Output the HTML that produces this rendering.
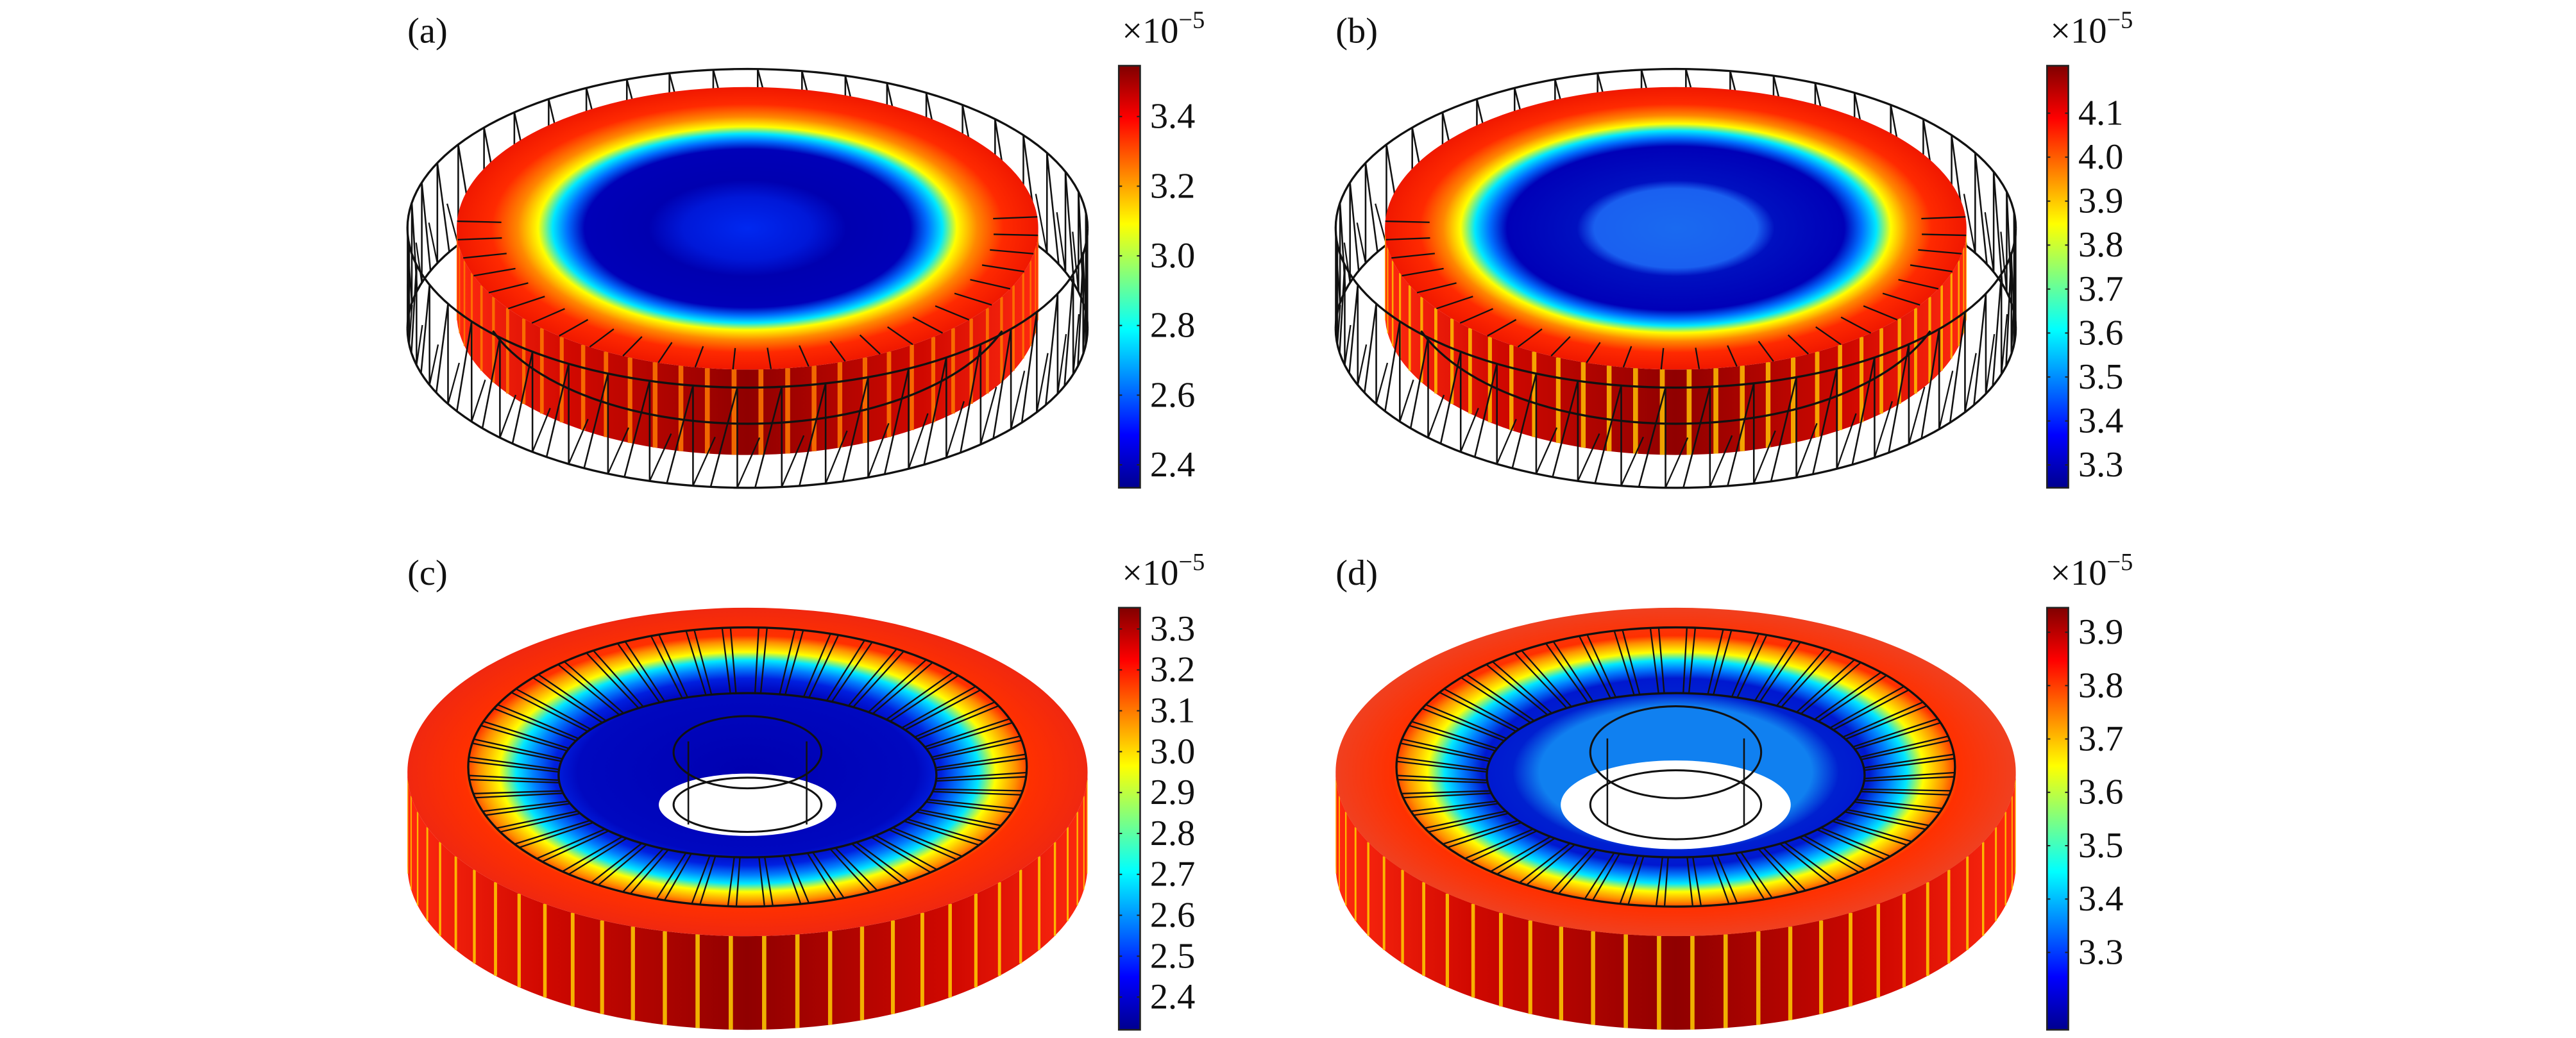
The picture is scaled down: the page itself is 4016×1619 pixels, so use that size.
<!DOCTYPE html>
<html><head><meta charset="utf-8">
<style>
html,body{margin:0;padding:0;background:#fff;}
svg{display:block;}
text{font-family:"Liberation Serif",serif;fill:#111;}
</style></head>
<body>
<svg id="fig" width="4016" height="1619" viewBox="0 0 1568 632" preserveAspectRatio="none" xmlns="http://www.w3.org/2000/svg">
<defs>
<linearGradient id="jet" x1="0" y1="1" x2="0" y2="0">
<stop offset="0" stop-color="#00008f"/><stop offset="0.125" stop-color="#0000ff"/><stop offset="0.375" stop-color="#00ffff"/><stop offset="0.625" stop-color="#ffff00"/><stop offset="0.875" stop-color="#ff0000"/><stop offset="1" stop-color="#800000"/>
</linearGradient>
<linearGradient id="side" x1="0" y1="0" x2="1" y2="0">
<stop offset="0" stop-color="#ff2a10"/><stop offset="0.2" stop-color="#d00800"/><stop offset="0.5" stop-color="#900000"/><stop offset="0.8" stop-color="#d00800"/><stop offset="1" stop-color="#ff2a10"/>
</linearGradient>
<radialGradient id="topA" cx="0.5" cy="0.5" r="0.5">
<stop offset="0" stop-color="#0028f0"/><stop offset="0.22" stop-color="#0018d8"/><stop offset="0.34" stop-color="#0000b0"/><stop offset="0.56" stop-color="#0000b8"/><stop offset="0.62" stop-color="#0070ff"/><stop offset="0.67" stop-color="#00e8ff"/><stop offset="0.72" stop-color="#ffff00"/><stop offset="0.79" stop-color="#ff8800"/><stop offset="0.88" stop-color="#ff2a00"/><stop offset="1" stop-color="#f01800"/>
</radialGradient>
<radialGradient id="topB" cx="0.5" cy="0.5" r="0.5">
<stop offset="0" stop-color="#1a6af0"/><stop offset="0.28" stop-color="#1a60f0"/><stop offset="0.34" stop-color="#0010c0"/><stop offset="0.58" stop-color="#0000b8"/><stop offset="0.64" stop-color="#0070ff"/><stop offset="0.69" stop-color="#00e8ff"/><stop offset="0.74" stop-color="#ffff00"/><stop offset="0.8" stop-color="#ff8800"/><stop offset="0.88" stop-color="#ff2a00"/><stop offset="1" stop-color="#f01800"/>
</radialGradient>
<radialGradient id="topC" cx="0.5" cy="0.5" r="0.5">
<stop offset="0" stop-color="#0000b0"/><stop offset="0.5" stop-color="#0008c0"/><stop offset="0.57" stop-color="#0020e0"/><stop offset="0.63" stop-color="#0080ff"/><stop offset="0.68" stop-color="#00e8ff"/><stop offset="0.73" stop-color="#ffff00"/><stop offset="0.79" stop-color="#ff9000"/><stop offset="0.83" stop-color="#ff3000"/><stop offset="1" stop-color="#f02810"/>
</radialGradient>
<radialGradient id="topD" cx="0.5" cy="0.5" r="0.5">
<stop offset="0" stop-color="#1080f0"/><stop offset="0.4" stop-color="#1080f0"/><stop offset="0.48" stop-color="#0020d0"/><stop offset="0.57" stop-color="#0018d0"/><stop offset="0.63" stop-color="#0080ff"/><stop offset="0.68" stop-color="#00e8ff"/><stop offset="0.73" stop-color="#ffff00"/><stop offset="0.79" stop-color="#ff9000"/><stop offset="0.83" stop-color="#ff3000"/><stop offset="1" stop-color="#f04020"/>
</radialGradient>
</defs>
</svg>
<script>
// colorbar data
const cbTicksA = [2.4, 2.6, 2.8, 3.0, 3.2, 3.4];
const cbRangeA = [2.334, 3.546];
const cbTicksB = [3.3, 3.4, 3.5, 3.6, 3.7, 3.8, 3.9, 4.0, 4.1];
const cbRangeB = [3.248, 4.208];
const cbTicksC = [2.4, 2.5, 2.6, 2.7, 2.8, 2.9, 3.0, 3.1, 3.2, 3.3];
const cbRangeC = [2.32, 3.352];
const cbTicksD = [3.3, 3.4, 3.5, 3.6, 3.7, 3.8, 3.9];
const cbRangeD = [3.155, 3.946];
const panelLabels = ["(a)", "(b)", "(c)", "(d)"];

const NS = "http://www.w3.org/2000/svg";
const svg = document.getElementById("fig");
function mk(tag, attrs, parent) {
  const e = document.createElementNS(NS, tag);
  for (const k in attrs) e.setAttribute(k, attrs[k]);
  (parent || svg).appendChild(e);
  return e;
}
function arcPath(cx, cy, rx, ry, a0, a1, n) {
  let d = "";
  for (let i = 0; i <= n; i++) {
    const t = a0 + (a1 - a0) * i / n;
    d += (i ? "L" : "M") + (cx + rx * Math.cos(t)).toFixed(2) + "," + (cy + ry * Math.sin(t)).toFixed(2);
  }
  return d;
}
function colorbar(g, x, y0, y1, ticks, range) {
  const yOf = v => y1 - (v - range[0]) / (range[1] - range[0]) * (y1 - y0);
  const bar = mk("rect", {x: x, y: y0, width: 13, height: y1 - y0, fill: "url(#jet)", stroke: "#222", "stroke-width": 1}, g);
  
  
  ticks.forEach(v => {
    const y = yOf(v);
    mk("line", {x1: x, x2: x + 2, y1: y, y2: y, stroke: "#222", "stroke-width": 0.8}, g);
    mk("line", {x1: x + 11, x2: x + 13, y1: y, y2: y, stroke: "#222", "stroke-width": 0.8}, g);
    const t = mk("text", {x: x + 19, y: y + 7, "font-size": 22}, g);
    t.textContent = v.toFixed(1);
    
    
  });
  const m = mk("text", {x: x + 2, y: y0 - 14, "font-size": 22}, g);
  m.innerHTML = '×10<tspan dy="-9" font-size="15">−5</tspan>';
  
  
}
function sideStripes(g, cx, cy, rx, ry, h, n, color, w) {
  for (let i = 0; i < n; i++) {
    const t = Math.PI * (i + 0.5) / n;
    const x = cx + rx * Math.cos(t), y = cy + ry * Math.sin(t);
    mk("line", {x1: x, x2: x, y1: y, y2: y + h, stroke: color, "stroke-width": w * Math.sin(t) + 0.4, opacity: 0.85}, g);
  }
}
function side(g, cx, cy, rx, ry, h) {
  const d = `M${cx - rx},${cy} A${rx},${ry} 0 0 0 ${cx + rx},${cy} L${cx + rx},${cy + h} A${rx},${ry} 0 0 1 ${cx - rx},${cy + h} Z`;
  const s = mk("path", {d: d, fill: "url(#side)"}, g);
  
  
}
function wireHalf(g, cx, cyT, cyB, rx, ry, front, n) {
  const a0 = front ? 0 : Math.PI, a1 = front ? Math.PI : 2 * Math.PI;
  mk("path", {d: arcPath(cx, cyT, rx, ry, a0, a1, 80), fill: "none", stroke: "#111", "stroke-width": 1.3}, g);
  mk("path", {d: arcPath(cx, cyB, rx, ry, a0, a1, 80), fill: "none", stroke: "#111", "stroke-width": 1.3}, g);
  const dt = 2 * Math.PI / n;
  for (let i = 0; i < n; i++) {
    const t = i * dt + 0.03;
    const s = Math.sin(t);
    if (front ? s < 0 : s >= 0) continue;
    const x = cx + rx * Math.cos(t);
    mk("line", {x1: x, x2: x, y1: cyT + ry * s, y2: cyB + ry * s, stroke: "#111", "stroke-width": 1}, g);
    const t2 = t + dt * 0.6;
    mk("line", {x1: x, y1: cyT + ry * s, x2: cx + rx * Math.cos(t2), y2: cyB + ry * Math.sin(t2), stroke: "#111", "stroke-width": 1}, g);
    const t3 = t - dt * 0.5;
    mk("line", {x1: x, y1: cyB + ry * s, x2: cx + rx * Math.cos(t3), y2: (cyT + cyB) / 2 + ry * Math.sin(t3), stroke: "#111", "stroke-width": 0.9}, g);
  }
}
function panelLabel(x, y, txt) {
  const t = mk("text", {x: x, y: y, "font-size": 22});
  t.textContent = txt;
  
  
}

// top panels (a), (b)
[[455, "topA", cbTicksA, cbRangeA, 0, "#ff7a00"], [1020, "topB", cbTicksB, cbRangeB, 1, "#ffc000"]].forEach(p => {
  const [cx, grad, ticks, range, idx, stripe] = p;
  const g = mk("g", {});
  
  
  wireHalf(g, cx, 139, 200, 207, 97, false, 48);
  side(g, cx, 139, 177, 86, 52);
  sideStripes(g, cx, 139, 177, 86, 52, 34, stripe, 2.6);
  const top = mk("ellipse", {cx: cx, cy: 139, rx: 177, ry: 86, fill: "url(#" + grad + ")"}, g);
  
  
  for (let i = 0; i < 48; i++) {
    const t = 2 * Math.PI * i / 48 + 0.05;
    if (Math.sin(t) < -0.1) continue;
    mk("line", {x1: cx + 177 * Math.cos(t), y1: 139 + 86 * Math.sin(t), x2: cx + 150 * Math.cos(t), y2: 139 + 73 * Math.sin(t), stroke: "#111", "stroke-width": 0.9}, g);
  }
  mk("path", {d: arcPath(cx, 172, 165, 86, 0.35, Math.PI - 0.35, 60), fill: "none", stroke: "#111", "stroke-width": 1.3}, g);
  wireHalf(g, cx, 139, 200, 207, 97, true, 48);
  colorbar(g, cx + 226, 40, 297, ticks, range);
  panelLabel(cx - 207, 26, panelLabels[idx]);
});

// bottom panels (c), (d)
[[455, "topC", cbTicksC, cbRangeC, 2, 54, 19, 45, 22], [1020, "topD", cbTicksD, cbRangeD, 3, 70, 27, 52, 28]].forEach(p => {
  const [cx, grad, ticks, range, idx, hrx, hry, crx, cry] = p;
  const cy = 470;
  const g = mk("g", {});
  
  
  side(g, cx, cy, 207, 100, 57);
  sideStripes(g, cx, cy, 207, 100, 57, 32, "#ffd000", 2.2);
  const top = mk("ellipse", {cx: cx, cy: cy, rx: 207, ry: 100, fill: "url(#" + grad + ")"}, g);
  
  
  const hole = mk("ellipse", {cx: cx, cy: 490, rx: hrx, ry: hry, fill: "#fff"}, g);
  
  
  // wire ring
  mk("ellipse", {cx: cx, cy: 467, rx: 170, ry: 85, fill: "none", stroke: "#111", "stroke-width": 1.3}, g);
  mk("ellipse", {cx: cx, cy: 472, rx: 115, ry: 50, fill: "none", stroke: "#111", "stroke-width": 1.3}, g);
  for (let i = 0; i < 48; i++) {
    const t = 2 * Math.PI * i / 48 + 0.04;
    for (const off of [0, 0.03]) {
      const tt = t + off;
      mk("line", {x1: cx + 170 * Math.cos(tt), y1: 467 + 85 * Math.sin(tt), x2: cx + 115 * Math.cos(tt), y2: 472 + 50 * Math.sin(tt), stroke: "#111", "stroke-width": 0.9}, g);
    }
  }
  // small cylinder wire
  mk("ellipse", {cx: cx, cy: 458, rx: crx, ry: cry, fill: "none", stroke: "#111", "stroke-width": 1.2}, g);
  mk("ellipse", {cx: cx, cy: 490, rx: crx, ry: cry * 0.75, fill: "none", stroke: "#111", "stroke-width": 1.2}, g);
  mk("line", {x1: cx - crx * 0.8, x2: cx - crx * 0.8, y1: 458 - cry * 0.3, y2: 502, stroke: "#111", "stroke-width": 1}, g);
  mk("line", {x1: cx + crx * 0.8, x2: cx + crx * 0.8, y1: 458 - cry * 0.3, y2: 502, stroke: "#111", "stroke-width": 1}, g);
  colorbar(g, cx + 226, 370, 627, ticks, range);
  panelLabel(cx - 207, 356, panelLabels[idx]);
});
</script>
</body></html>
